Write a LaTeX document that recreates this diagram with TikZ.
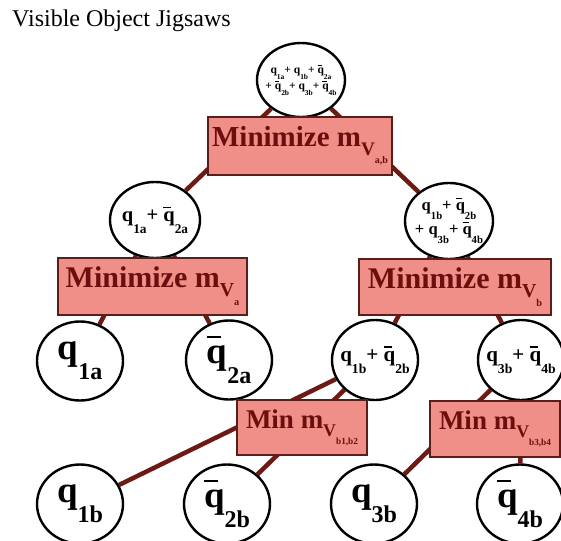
\documentclass[tikz,border=0pt]{standalone}
\usepackage{fontspec}
\setmainfont{Liberation Serif}
\usepackage{graphicx}
\usetikzlibrary{shapes.geometric,backgrounds}

\definecolor{linkred}{HTML}{6E1A14}
\definecolor{boxfill}{HTML}{F08F87}
\definecolor{boxtext}{HTML}{6A0E0E}
\definecolor{boxline}{HTML}{5A1E1A}

\newcommand{\qs}[1]{q\raisebox{-.55em}{\scalebox{.65}{#1}}}
\newcommand{\qbs}[1]{\rlap{\rule[.68em]{.38em}{.06em}}\qs{#1}}
\newcommand{\mv}[1]{m\raisebox{-.3em}{\scalebox{.66}{V\raisebox{-.45em}{\scalebox{.52}{#1}}}}}

\begin{document}
\begin{tikzpicture}[x=1pt, y=-1pt,
  jig/.style={draw, ellipse, line width=2.4pt, fill=white, inner sep=-12pt, align=center},
  bigjig/.style={jig, minimum width=86pt, minimum height=79pt, font=\bfseries\fontsize{37}{40}\selectfont},
  minbox/.style={draw=boxline, line width=1.3pt, fill=boxfill, text=boxtext, inner sep=0pt},
  link/.style={draw=linkred, line width=4.5pt}]
\useasboundingbox (0,0) rectangle (561,540);
\node[anchor=base west, inner sep=0pt, font=\fontsize{24}{24}\selectfont] (title) at (12,27) {Visible Object Jigsaws};

% top of the tree
\node[jig, minimum width=88pt, minimum height=74pt, font=\bfseries\fontsize{11.5}{16}\selectfont] (all) at (301,80) {\qs{1a}+ \qs{1b}+ \qbs{2a}\\+ \qbs{2b}+ \qs{3b}+ \qbs{4b}};
\node[minbox, minimum width=184pt, minimum height=58pt, font=\bfseries\fontsize{29}{29}\selectfont] (mab) at (300,146) {Minimize \mv{a,b}};

% second level
\node[jig, minimum width=90pt, minimum height=76pt, font=\bfseries\fontsize{20.5}{22}\selectfont] (sa) at (155,220) {\qs{1a}+ \qbs{2a}};
\node[jig, minimum width=88pt, minimum height=76pt, font=\bfseries\fontsize{16.5}{24}\selectfont] (sb) at (449,221) {\qs{1b}+ \qbs{2b}\\+ \qs{3b}+ \qbs{4b}};
\node[minbox, minimum width=189pt, minimum height=57pt, font=\bfseries\fontsize{30}{30}\selectfont] (ma) at (152.5,286.5) {Minimize \mv{a}};
\node[minbox, minimum width=192pt, minimum height=56pt, font=\bfseries\fontsize{30}{30}\selectfont] (mb) at (455,287) {Minimize \mv{b}};

% third level
\node[bigjig] (q1a) at (80,361) {\qs{1a}};
\node[bigjig] (q2a) at (229,360) {\qbs{2a}};
\node[jig, minimum width=86pt, minimum height=80pt, font=\bfseries\fontsize{21}{22}\selectfont] (s12) at (375,360) {\qs{1b}+ \qbs{2b}};
\node[jig, minimum width=86pt, minimum height=80pt, font=\bfseries\fontsize{21}{22}\selectfont] (s34) at (521,360) {\qs{3b}+ \qbs{4b}};
\node[minbox, minimum width=130pt, minimum height=55pt, font=\bfseries\fontsize{27}{27}\selectfont] (m12) at (302,427.5) {Min \mv{b1,b2}};
\node[minbox, minimum width=130pt, minimum height=56pt, font=\bfseries\fontsize{27}{27}\selectfont] (m34) at (495,429) {Min \mv{b3,b4}};

% leaves
\node[bigjig] (q1b) at (80,504) {\qs{1b}};
\node[bigjig] (q2b) at (227,504) {\qbs{2b}};
\node[bigjig] (q3b) at (374,504) {\qs{3b}};
\node[bigjig] (q4b) at (520,504) {\qbs{4b}};

\begin{scope}[on background layer]
\draw[link] (all) -- (sa);
\draw[link] (all) -- (sb);
\draw[link] (sa) -- (q1a);
\draw[link] (sa) -- (q2a);
\draw[link] (sb) -- (s12);
\draw[link] (sb) -- (s34);
\draw[link] (s12) -- (q1b);
\draw[link] (s12) -- (q2b);
\draw[link] (s34) -- (q3b);
\draw[link] (s34) -- (q4b);
\end{scope}
\end{tikzpicture}
\end{document}
